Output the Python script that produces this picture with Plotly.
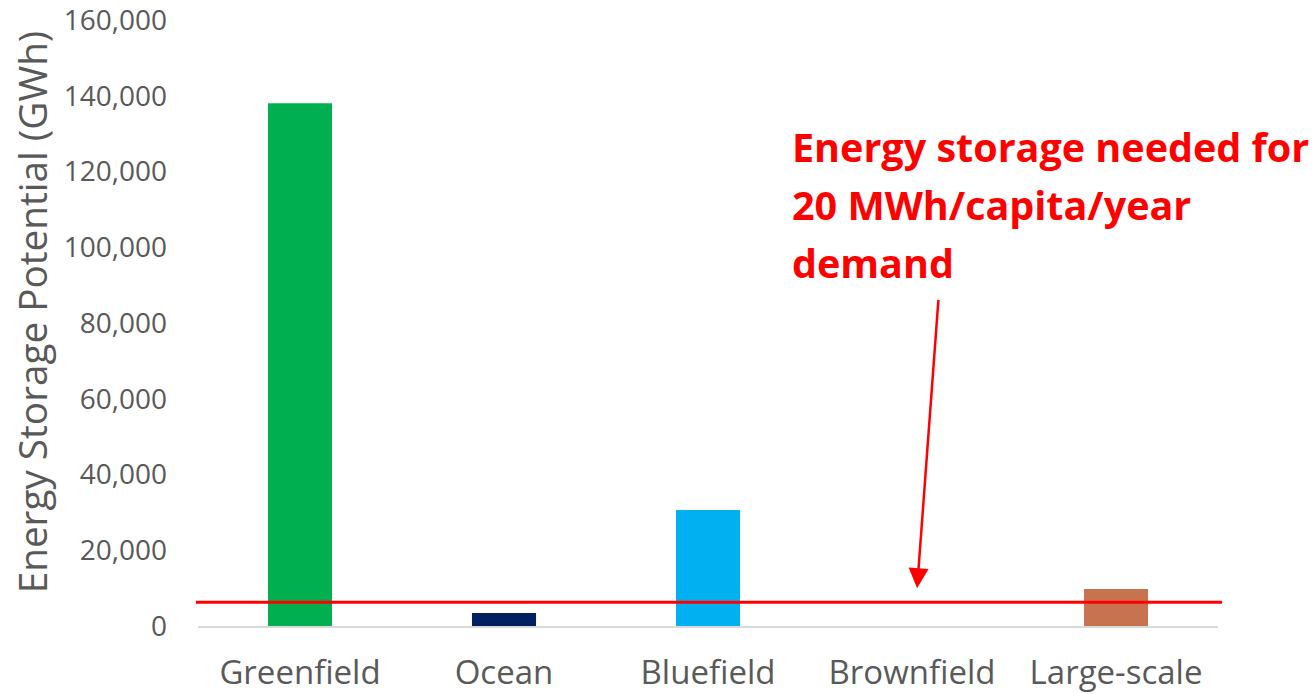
import plotly.graph_objects as go

# Pumped-hydro energy storage potential by site type (GWh)
categories = ["Greenfield", "Ocean", "Bluefield", "Brownfield", "Large-scale"]
storage_gwh = [138000, 3400, 30600, 0, 9800]
bar_colors = ["#00B050", "#002060", "#00B0F0", "#A5A5A5", "#C8734F"]

# Storage required for a 20 MWh/capita/year demand (GWh)
required_gwh = 6300

y_ticks = [0, 20000, 40000, 60000, 80000, 100000, 120000, 140000, 160000]
y_tick_text = ["0", "20,000", "40,000", "60,000", "80,000", "100,000", "120,000", "140,000", "160,000"]

y_title = "Energy Storage Potential (GWh)"
callout_lines = ["Energy storage needed for", "20 MWh/capita/year", "demand"]

font_family = "Open Sans, Lato, sans-serif"
label_grey = "#595959"

fig = go.Figure()
fig.add_trace(go.Bar(
    x=categories,
    y=storage_gwh,
    marker=dict(color=bar_colors, line=dict(width=0)),
    width=0.314,
    showlegend=False,
    hoverinfo="x+y",
))

# Horizontal threshold line across the plot
fig.add_shape(
    type="line", xref="paper", yref="y",
    x0=-0.002, x1=1.004, y0=required_gwh, y1=required_gwh,
    line=dict(color="#FF0000", width=3),
)

# Arrow pointing to the threshold line
fig.add_annotation(
    x=3.025, y=10000, xref="x", yref="y",
    ax=3.13, ay=86500, axref="x", ayref="y",
    text="", showarrow=True,
    arrowhead=2, arrowsize=1.6, arrowwidth=2.5, arrowcolor="#FF0000",
)

# Callout text, one annotation per line for even spacing
for i, line in enumerate(callout_lines):
    fig.add_annotation(
        x=0.580, y=0.790 - i * 0.0955, xref="paper", yref="paper",
        text=f"<b>{line}</b>",
        showarrow=False, align="left", xanchor="left", yanchor="middle",
        font=dict(family=font_family, size=39.5, color="#FF0000"),
    )

# Rotated y-axis title
fig.add_annotation(
    x=-0.1625, y=0.518, xref="paper", yref="paper",
    text=y_title, textangle=-90, showarrow=False,
    xanchor="center", yanchor="middle",
    font=dict(family=font_family, size=38.7, color=label_grey),
)

fig.update_layout(
    width=1316, height=694,
    margin=dict(l=198, r=98, t=20, b=68, autoexpand=False),
    paper_bgcolor="white", plot_bgcolor="white",
    font=dict(family=font_family, color=label_grey),
    bargap=0.686,
)

fig.update_xaxes(
    showline=True, linecolor="#D9D9D9", linewidth=1.5,
    showgrid=False, ticks="",
    tickfont=dict(size=33, color=label_grey),
    ticklabelstandoff=17,
    ticklabeloverflow="allow",
)
fig.update_yaxes(
    range=[0, 160000],
    tickvals=y_ticks, ticktext=y_tick_text,
    showgrid=False, zeroline=False, showline=False, ticks="",
    tickfont=dict(size=28, color=label_grey),
    ticklabelstandoff=30,
    ticklabeloverflow="allow",
)

fig.write_html("out.html")
